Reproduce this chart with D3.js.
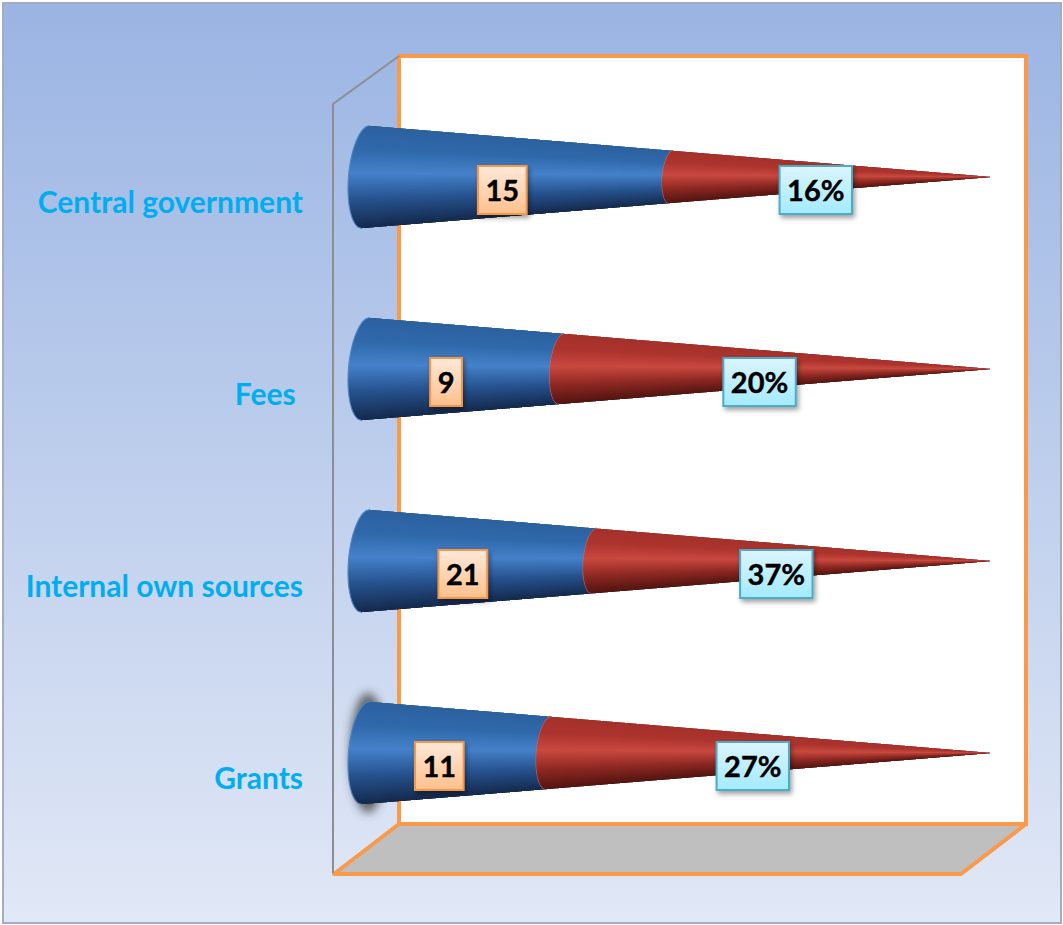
<!DOCTYPE html>
<html>
<head>
<meta charset="utf-8">
<script src="https://cdn.jsdelivr.net/npm/d3@7"></script>
<style>
html,body{margin:0;padding:0;background:#fff}
svg{display:block}
text{white-space:pre;font-family:Lato,"Open Sans",sans-serif;font-weight:700}
</style>
</head>
<body>
<svg id="chart" width="1063" height="925"></svg>
<script>
// Revenue sources: absolute amount and share, drawn as 100% stacked cones
const categories = ["Central government", "Fees ", "Internal own sources", "Grants"];
const amounts = [15, 9, 21, 11];
const shares = [16, 20, 37, 27];
const shareLabels = ["16%", "20%", "37%", "27%"];

const svg = d3.select("#chart");
const defs = svg.append("defs");

const bg = defs.append("linearGradient").attr("id", "bg").attr("x1", 0).attr("y1", 0).attr("x2", 0).attr("y2", 1);
bg.append("stop").attr("offset", 0).attr("stop-color", "#9ab4e3");
bg.append("stop").attr("offset", 1).attr("stop-color", "#e1e8f6");

const addBoxGradient = (id, a, b) => {
  const g = defs.append("linearGradient").attr("id", id).attr("x1", 0).attr("y1", 0).attr("x2", 0).attr("y2", 1);
  g.append("stop").attr("offset", 0).attr("stop-color", a);
  g.append("stop").attr("offset", 1).attr("stop-color", b);
};
addBoxGradient("boxOrange", "#ffe9da", "#ffc08c");
addBoxGradient("boxBlue", "#dbf5fd", "#a3eaff");

defs.append("filter").attr("id", "boxShadow").attr("x", "-30%").attr("y", "-30%").attr("width", "170%").attr("height", "170%")
  .append("feDropShadow").attr("dx", 2).attr("dy", 3).attr("stdDeviation", 2.5)
  .attr("flood-color", "#000").attr("flood-opacity", 0.38);
defs.append("filter").attr("id", "soft").attr("x", "-80%").attr("y", "-30%").attr("width", "260%").attr("height", "160%")
  .append("feGaussianBlur").attr("stdDeviation", 5);

// Page background and panel border
svg.append("rect").attr("x", 3).attr("y", 3).attr("width", 1058).attr("height", 920)
  .attr("fill", "url(#bg)").attr("stroke", "#a4acbf").attr("stroke-width", 2);

// 3D plot box: back wall, floor, side wall edge
const orange = "#f9994a";
svg.append("rect").attr("x", 399).attr("y", 56).attr("width", 627).attr("height", 768)
  .attr("fill", "#fff").attr("stroke", orange).attr("stroke-width", 4);
svg.append("polygon").attr("points", "399,824 1026,824 961,874 334,874")
  .attr("fill", "#bfbfbf").attr("stroke", orange).attr("stroke-width", 4).attr("stroke-linejoin", "round");
svg.append("path").attr("d", "M399,56 L333,104 L333,873")
  .attr("fill", "none").attr("stroke", "#8e8e8e").attr("stroke-width", 2);

// Scales: x runs along the cone from base to apex, y places each cone's axis
const x = d3.scaleLinear().domain([0, 1]).range([348, 996]);
const y = d3.scalePoint().domain(categories).range([177, 753]);

const halfHeight = 51.5, baseRx = 17.5, baseSkew = 4, baseCx = x(0) + Math.hypot(baseRx, baseSkew);

// A point on the cone surface: t along the axis, v from -1 (top) to 1 (bottom)
function surface(apexY, t, v) {
  const s = 1 - t;
  const c = Math.sqrt(Math.max(0, 1 - v * v));
  const bx = baseCx - baseRx * c - baseSkew * v;
  const by = apexY + halfHeight * v;
  return [x(1) - s * (x(1) - bx), apexY - s * (apexY - by)];
}

const shade = (stops) => d3.scaleLinear().domain([-1, -0.55, -0.08, 0.45, 1]).range(stops).interpolate(d3.interpolateRgb);
const blueShade = shade(["#2c609f", "#2f69ab", "#4581ca", "#26528e", "#14294c"]);
const redShade = shade(["#a4302a", "#ad342e", "#c8483f", "#8e2822", "#521411"]);
const step = 1 / 60;
const strips = d3.range(-1, 1, step);
const rimSteps = d3.range(-1, 1.0001, 1 / 40);
const line = d3.line();
let clipCount = 0;

function drawSegment(g, apexY, t0, t1, colorOf, edge) {
  // Outline of the segment: near rim downwards, then far rim back up
  const rim0 = rimSteps.map(v => surface(apexY, t0, v));
  const rim1 = rimSteps.map(v => surface(apexY, t1, v)).reverse();
  const id = "seg" + (clipCount++);
  defs.append("clipPath").attr("id", id).append("path").attr("d", line(rim0.concat(rim1)) + "Z");
  const body = g.append("g").attr("clip-path", `url(#${id})`);
  // Shading bands converge on the apex; each band is pushed past the rim and clipped
  strips.forEach(v => {
    const v2 = v + step;
    const pad = 0.02;
    const pts = [surface(apexY, t0 - pad, v), surface(apexY, t1 + pad, v), surface(apexY, t1 + pad, v2), surface(apexY, t0 - pad, v2)];
    body.append("polygon").attr("points", pts.join(" ")).attr("fill", colorOf(v + step / 2))
      .attr("shape-rendering", "crispEdges");
  });
  g.append("path").attr("d", line(rim0)).attr("fill", "none").attr("stroke", edge).attr("stroke-width", 1.1);
}

const rows = categories.map((c, i) => ({
  cat: c, amount: amounts[i], share: shares[i], shareLabel: shareLabels[i],
  split: amounts[i] / (amounts[i] + shares[i])
}));

// Soft shadow behind the base of the last cone
svg.append("ellipse").attr("cx", x(0) + 20).attr("cy", y("Grants"))
  .attr("rx", 18).attr("ry", 60).attr("fill", "#444").attr("opacity", 0.8).attr("filter", "url(#soft)");

rows.forEach(d => {
  const g = svg.append("g");
  const ay = y(d.cat);
  drawSegment(g, ay, d.split, 1, redShade, "#d0605c");
  drawSegment(g, ay, 0, d.split, blueShade, "#4f86c6");
});

// Category labels
svg.append("g").selectAll("text").data(rows).join("text")
  .attr("x", 303).attr("y", d => y(d.cat) + 36)
  .attr("text-anchor", "end").attr("font-size", 30).attr("fill", "#00aeef")
  .text(d => d.cat);

// Value boxes sitting on each segment
function valueBox(cx, cy, label, grad, stroke) {
  const g = svg.append("g");
  const rect = g.append("rect");
  const t = g.append("text").attr("x", cx).attr("y", cy + 10.5).attr("text-anchor", "middle")
    .attr("font-size", 29).attr("fill", "#000").attr("stroke", "#000").attr("stroke-width", 0.4).text(label);
  const w = t.node().getComputedTextLength() + 15;
  rect.attr("x", cx - w / 2).attr("y", cy - 24).attr("width", w).attr("height", 48)
    .attr("fill", `url(#${grad})`).attr("stroke", stroke).attr("stroke-width", 2).attr("filter", "url(#boxShadow)");
}
rows.forEach(d => {
  const ay = y(d.cat);
  valueBox((x(0) + x(d.split)) / 2 - 2.5, ay + 13, String(d.amount), "boxOrange", "#f79646");
  valueBox((x(d.split) + x(1)) / 2 - 13, ay + 13, d.shareLabel, "boxBlue", "#4bacc6");
});
</script>
</body>
</html>
